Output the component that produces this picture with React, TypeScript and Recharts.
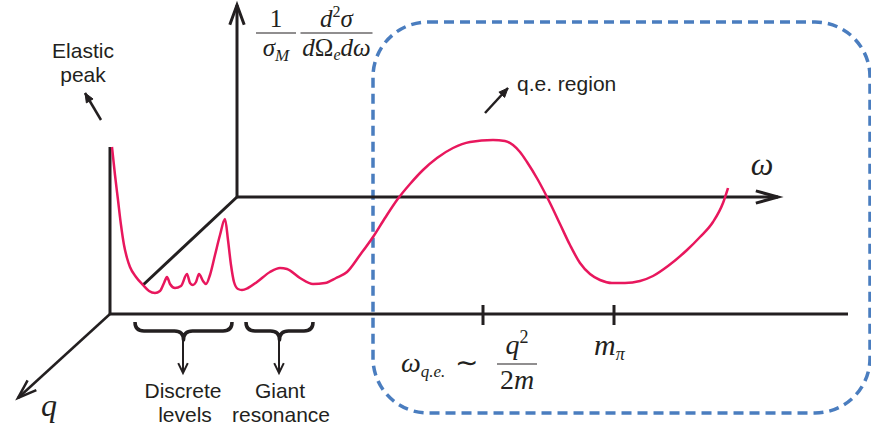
import React from "react";
import {
  ComposedChart,
  Line,
  XAxis,
  YAxis,
  ReferenceLine,
  ReferenceDot,
  ReferenceArea,
} from "recharts";

// energy transfer (left -> right) and the response above the front baseline
const omega = [
  112, 115, 118, 121, 124, 127, 130, 136, 143, 149, 155, 160, 164, 167, 170, 175, 181, 187,
  190, 193, 196, 199, 203, 206, 210, 215, 220, 225, 228, 231, 234, 238, 242, 248, 257, 270,
  280, 287, 300, 313, 325, 336, 347, 360, 373, 385, 397, 410, 423, 437, 453, 470, 493, 505,
  513, 520, 527, 538, 550, 560, 570, 580, 590, 600, 612, 625, 640, 653, 668, 687, 700, 713,
  723, 728,
];
const response = [
  167, 139, 114, 89, 69, 56, 47, 37, 29, 23, 21, 23, 31, 37, 30, 26, 28, 40,
  31, 29, 32, 40, 33, 30, 39, 59, 79, 95, 74, 49, 32, 25, 24, 26, 32, 42,
  46, 45, 36, 30, 31, 36, 42, 59, 77, 96, 114, 130, 144, 156, 166, 172, 174, 173,
  169, 162, 152, 134, 111, 90, 69, 51, 40, 34, 31, 31, 33, 38, 48, 64, 77, 92,
  111, 126,
];

const INK = "#231f20";
const PINK = "#e8175d";
const BLUE = "#4a7dbf";
const SANS = "'Liberation Sans', Arial, sans-serif";
const MATH = "'Liberation Serif', serif";

type Pt = [number, number];
const axisLines: Pt[][] = [
  [[110, 0], [848, 0]],
  [[110, 0], [110, 167]],
  [[237, 117], [143, 29]],
  [[483, 9], [483, -11]],
  [[614, 9], [614, -11]],
];
const arrows: { from: Pt; to: Pt; size: number; spread: number; width: number; filled?: boolean }[] = [
  { from: [237, 117], to: [237, 309], size: 21, spread: 0.35, width: 3 },
  { from: [237, 117], to: [778, 117], size: 23, spread: 0.27, width: 3 },
  { from: [110, 0], to: [18, -84], size: 20, spread: 0.33, width: 2.5 },
  { from: [101, 194], to: [85, 221], size: 10, spread: 0.4, width: 2.5, filled: true },
  { from: [485, 201], to: [508, 226], size: 10, spread: 0.4, width: 2.5, filled: true },
  { from: [183, -26], to: [183, -59], size: 11, spread: 0.45, width: 2 },
  { from: [279, -26], to: [279, -59], size: 11, spread: 0.45, width: 2 },
];
const braces = [
  { x1: 135, x2: 232 },
  { x1: 246, x2: 313 },
];
const words = [
  { text: "Elastic", x: 83, y: 256 },
  { text: "peak", x: 83, y: 232 },
  { text: "Discrete", x: 183, y: -84 },
  { text: "levels", x: 185, y: -108 },
  { text: "Giant", x: 280, y: -84 },
  { text: "resonance", x: 281, y: -108 },
];

const headShape = (dx: number, dy: number, size: number, spread: number, width: number, filled?: boolean) =>
  (p: any) => {
    const a = Math.atan2(-dy, dx);
    const x1 = p.cx - size * Math.cos(a - spread);
    const y1 = p.cy - size * Math.sin(a - spread);
    const x2 = p.cx - size * Math.cos(a + spread);
    const y2 = p.cy - size * Math.sin(a + spread);
    const pts = `${x1},${y1} ${p.cx},${p.cy} ${x2},${y2}`;
    return filled ? (
      <polygon points={pts} fill={INK} stroke={INK} strokeWidth={1} />
    ) : (
      <polyline points={pts} fill="none" stroke={INK} strokeWidth={width} strokeLinejoin="miter" />
    );
  };

const braceShape = (p: any) => {
  const { x, y, width: w, height: h } = p;
  const m = x + w / 2;
  const q = h / 2;
  const d =
    `M${x},${y} Q${x},${y + q} ${x + q},${y + q} L${m - q},${y + q} ` +
    `Q${m},${y + q} ${m},${y + h} Q${m},${y + q} ${m + q},${y + q} ` +
    `L${x + w - q},${y + q} Q${x + w},${y + q} ${x + w},${y}`;
  return <path d={d} fill="none" stroke={INK} strokeWidth={3.5} strokeLinejoin="round" />;
};

const boxShape = (p: any) => (
  <rect
    x={p.x}
    y={p.y}
    width={p.width}
    height={p.height}
    rx={55}
    ry={55}
    fill="none"
    stroke={BLUE}
    strokeWidth={3.5}
    strokeDasharray="10 6"
  />
);

const wordShape = (text: string, anchor: "middle" | "start" = "middle") => (p: any) => (
  <text x={p.cx} y={p.cy} textAnchor={anchor} fontFamily={SANS} fontSize={21} fill={INK}>
    {text}
  </text>
);

const fraction = (w: number, num: React.ReactNode, den: React.ReactNode, size = 25, up = 6, down = 23) =>
  (p: any) => (
    <g fontFamily={MATH} fontSize={size} fill={INK}>
      <line x1={p.cx - w / 2} x2={p.cx + w / 2} y1={p.cy} y2={p.cy} stroke={INK} strokeWidth={1.2} />
      <text x={p.cx} y={p.cy - up} textAnchor="middle">{num}</text>
      <text x={p.cx} y={p.cy + down} textAnchor="middle">{den}</text>
    </g>
  );

const mathShape = (node: React.ReactNode, size = 26, anchor: "start" | "middle" = "start") => (p: any) => (
  <text x={p.cx} y={p.cy} textAnchor={anchor} fontFamily={MATH} fontSize={size} fill={INK}>
    {node}
  </text>
);

const App: React.FC = () => {
  const data = omega.map((w, i) => ({ w, s: response[i] }));

  return (
    <div style={{ width: 871, height: 429, background: "#fff" }}>
      <style>{"body{margin:0}"}</style>
      <ComposedChart width={871} height={429} data={data} margin={{ top: 0, right: 0, bottom: 0, left: 0 }}>
        <XAxis type="number" dataKey="w" domain={[0, 871]} allowDataOverflow hide />
        <YAxis type="number" domain={[-115, 314]} allowDataOverflow hide />

        {axisLines.map((seg, i) => (
          <ReferenceLine
            key={`ax${i}`}
            segment={[{ x: seg[0][0], y: seg[0][1] }, { x: seg[1][0], y: seg[1][1] }]}
            stroke={INK}
            strokeWidth={3}
            ifOverflow="visible"
          />
        ))}
        {arrows.map((a, i) => (
          <ReferenceLine
            key={`ar${i}`}
            segment={[{ x: a.from[0], y: a.from[1] }, { x: a.to[0], y: a.to[1] }]}
            stroke={INK}
            strokeWidth={a.width}
            ifOverflow="visible"
          />
        ))}
        {arrows.map((a, i) => (
          <ReferenceDot
            key={`hd${i}`}
            x={a.to[0]}
            y={a.to[1]}
            r={0}
            ifOverflow="visible"
            shape={headShape(a.to[0] - a.from[0], a.to[1] - a.from[1], a.size, a.spread, a.width, a.filled)}
          />
        ))}
        {braces.map((b, i) => (
          <ReferenceArea key={`br${i}`} x1={b.x1} x2={b.x2} y1={-8} y2={-26} ifOverflow="visible" shape={braceShape} />
        ))}

        <Line
          type="monotone"
          dataKey="s"
          stroke={PINK}
          strokeWidth={2.5}
          dot={false}
          activeDot={false}
          isAnimationActive={false}
        />

        <ReferenceArea x1={373} x2={870} y1={-99} y2={292} ifOverflow="visible" shape={boxShape} />

        {words.map((t, i) => (
          <ReferenceDot key={`w${i}`} x={t.x} y={t.y} r={0} ifOverflow="visible" shape={wordShape(t.text)} />
        ))}
        <ReferenceDot x={517} y={223} r={0} ifOverflow="visible" shape={wordShape("q.e. region", "start")} />

        <ReferenceDot
          x={276}
          y={281}
          r={0}
          ifOverflow="visible"
          shape={fraction(
            40,
            <tspan>1</tspan>,
            <>
              <tspan fontStyle="italic">σ</tspan>
              <tspan fontStyle="italic" fontSize={17} dy={5}>M</tspan>
            </>
          )}
        />
        <ReferenceDot
          x={336.5}
          y={281}
          r={0}
          ifOverflow="visible"
          shape={fraction(
            72,
            <>
              <tspan fontStyle="italic">d</tspan>
              <tspan fontSize={16} dy={-10}>2</tspan>
              <tspan fontStyle="italic" dy={10}>σ</tspan>
            </>,
            <>
              <tspan fontStyle="italic">d</tspan>
              <tspan>Ω</tspan>
              <tspan fontStyle="italic" fontSize={16} dy={4}>e</tspan>
              <tspan fontStyle="italic" dy={-4}>dω</tspan>
            </>
          )}
        />
        <ReferenceDot x={762} y={139} r={0} ifOverflow="visible" shape={mathShape(<tspan fontStyle="italic">ω</tspan>, 32, "middle")} />
        <ReferenceDot x={41} y={-102} r={0} ifOverflow="visible" shape={mathShape(<tspan fontStyle="italic">q</tspan>, 32)} />
        <ReferenceDot
          x={401}
          y={-58}
          r={0}
          ifOverflow="visible"
          shape={mathShape(
            <>
              <tspan fontStyle="italic" fontSize={28}>ω</tspan>
              <tspan fontStyle="italic" fontSize={17} dy={5}>q.e.</tspan>
              <tspan dy={-5} dx={10} fontSize={28}>∼</tspan>
            </>
          )}
        />
        <ReferenceDot
          x={517}
          y={-50}
          r={0}
          ifOverflow="visible"
          shape={fraction(
            40,
            <>
              <tspan fontStyle="italic">q</tspan>
              <tspan fontSize={18} dy={-11}>2</tspan>
            </>,
            <>
              <tspan>2</tspan>
              <tspan fontStyle="italic">m</tspan>
            </>,
            28,
            10,
            25
          )}
        />
        <ReferenceDot
          x={594}
          y={-41}
          r={0}
          ifOverflow="visible"
          shape={mathShape(
            <>
              <tspan fontStyle="italic" fontSize={30}>m</tspan>
              <tspan fontStyle="italic" fontSize={18} dy={5}>π</tspan>
            </>,
            28
          )}
        />
      </ComposedChart>
    </div>
  );
};

export default App;
